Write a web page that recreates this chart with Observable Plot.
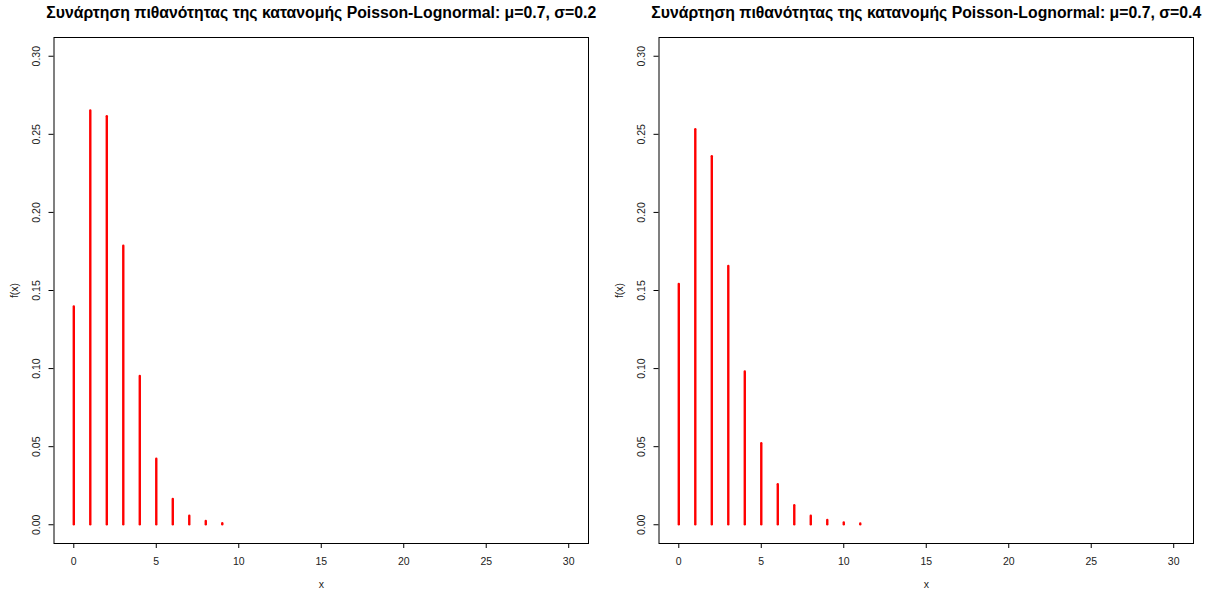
<!DOCTYPE html>
<html>
<head>
<meta charset="utf-8">
<script src="https://cdn.jsdelivr.net/npm/d3@7"></script>
<script src="https://cdn.jsdelivr.net/npm/@observablehq/plot@0.6"></script>
<style>
  html, body { margin: 0; padding: 0; background: #fff; }
  #wrap { position: relative; width: 1205px; height: 590px; }
  #wrap > svg { position: absolute; top: 0; overflow: visible; }
</style>
</head>
<body>
<div id="wrap"></div>
<script>
// Poisson-lognormal probability mass function, μ = 0.7
const xValues02 = [0, 1, 2, 3, 4, 5, 6, 7, 8, 9];
const fx02 = [0.1395, 0.2650, 0.2613, 0.1784, 0.0949, 0.0419, 0.0162, 0.0055, 0.0021, 0.0007];

const xValues04 = [0, 1, 2, 3, 4, 5, 6, 7, 8, 9, 10, 11];
const fx04 = [0.1538, 0.2530, 0.2357, 0.1654, 0.0978, 0.0519, 0.0256, 0.0122, 0.0055, 0.0028, 0.0012, 0.0005];

const sigmas = ["0.2", "0.4"];
const xTicks = [0, 5, 10, 15, 20, 25, 30];
const yTicks = [0, 0.05, 0.10, 0.15, 0.20, 0.25, 0.30];

const font = "'Liberation Sans', Arial, Helvetica, sans-serif";

function pmfPlot(xs, fs, sigma) {
  const data = xs.map((x, i) => ({x, f: fs[i]}));
  return Plot.plot({
    width: 602,
    height: 590,
    marginTop: 37,
    marginBottom: 47,
    marginLeft: 53.5,
    marginRight: 14,
    style: {fontFamily: font, background: "white", color: "black", overflow: "visible"},
    x: {domain: [-1.2, 31.2]},
    y: {domain: [-0.012, 0.312]},
    marks: [
      Plot.ruleX(data, {x: "x", y1: 0, y2: "f", stroke: "red", strokeWidth: 2.4, strokeLinecap: "round"}),
      Plot.frame({stroke: "black", strokeWidth: 1}),
      // tick marks
      Plot.axisX({ticks: xTicks, tickSize: 5, tickFormat: () => "", label: null, stroke: "black"}),
      Plot.axisY({ticks: yTicks, tickSize: 5, tickFormat: () => "", label: null, stroke: "black"}),
      // tick labels
      Plot.text(xTicks, {x: d => d, text: d => String(d), frameAnchor: "bottom", dy: 18, lineAnchor: "middle", fontSize: 10.5, fill: "#222"}),
      Plot.text(yTicks, {y: d => d, text: d => d3.format(".2f")(d), frameAnchor: "left", dx: -17, rotate: -90, textAnchor: "middle", lineAnchor: "middle", fontSize: 10.5, fill: "#222"}),
      // axis titles
      Plot.text(["x"], {text: d => d, frameAnchor: "bottom", dy: 41, lineAnchor: "middle", fontSize: 10.5, fill: "#222"}),
      Plot.text(["f(x)"], {text: d => d, frameAnchor: "left", dx: -39, rotate: -90, textAnchor: "middle", lineAnchor: "middle", fontSize: 10.5, fill: "#222"}),
      // main title
      Plot.text([`Συνάρτηση πιθανότητας της κατανομής Poisson-Lognormal: μ=0.7, σ=${sigma}`], {
        text: d => d, frameAnchor: "top", dy: -24.5, lineAnchor: "middle",
        fontSize: 15.8, fontWeight: "bold", fill: "black"
      })
    ]
  });
}

const wrap = document.getElementById("wrap");
const left = pmfPlot(xValues02, fx02, sigmas[0]);
left.style.left = "0px";
const right = pmfPlot(xValues04, fx04, sigmas[1]);
right.style.left = "604.5px";
wrap.append(left, right);
</script>
</body>
</html>
